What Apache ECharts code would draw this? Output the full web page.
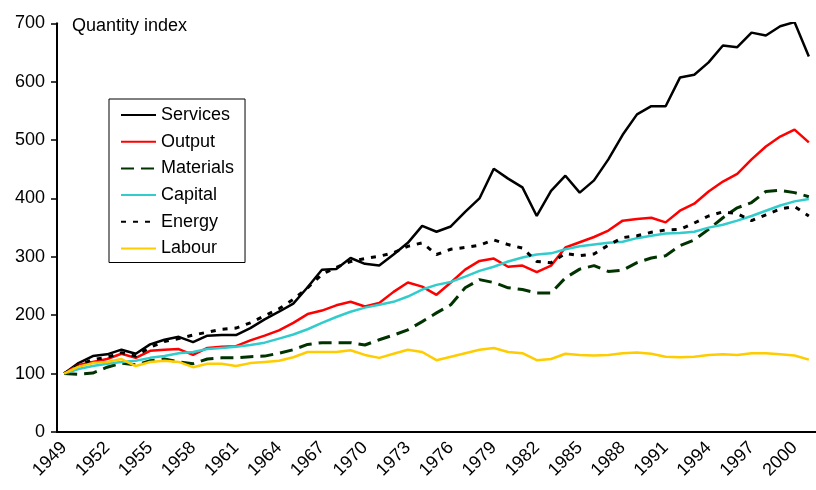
<!DOCTYPE html>
<html>
<head>
<meta charset="utf-8">
<script src="https://cdn.jsdelivr.net/npm/echarts@6/dist/echarts.min.js"></script>
<style>
  html, body { margin: 0; padding: 0; background: #fff; }
  #main { width: 816px; height: 490px; }
</style>
</head>
<body>
<div id="main"></div>
<script>
// years along the bottom (one category per year)
var years = ['1949','1950','1951','1952','1953','1954','1955','1956','1957','1958',
    '1959','1960','1961','1962','1963','1964','1965','1966','1967','1968',
    '1969','1970','1971','1972','1973','1974','1975','1976','1977','1978',
    '1979','1980','1981','1982','1983','1984','1985','1986','1987','1988',
    '1989','1990','1991','1992','1993','1994','1995','1996','1997','1998',
    '1999','2000','2001'];

var services = [100,118,130,133,141,134,150,158,163,154,
    165,166,166,178,193,206,220,248,278,279,
    298,288,285,304,324,353,343,352,377,400,
    451,434,419,370,413,439,410,431,467,509,
    544,558,558,607,612,633,662,659,684,679,
    695,702,643];

var output = [100,115,120,125,134,127,139,141,142,132,
    144,146,147,157,165,174,187,202,208,217,
    223,215,221,240,256,249,235,256,278,293,
    297,283,285,274,285,316,325,334,345,362,
    365,367,359,379,391,412,429,442,467,489,
    506,518,496];

var materials = [100,99,101,111,118,115,122,125,120,117,
    125,127,127,129,130,135,141,150,153,153,
    153,149,158,166,175,189,204,218,247,261,
    256,247,244,238,238,264,279,285,275,277,
    290,298,302,319,329,347,367,384,393,412,
    414,410,403];

var capital = [100,108,113,117,120,122,127,130,135,137,
    142,144,146,149,153,160,167,176,187,197,
    206,213,218,223,232,244,252,257,266,276,
    283,292,299,304,306,313,318,321,324,326,
    332,336,340,341,343,350,355,362,370,379,
    388,395,399];

var energy = [100,114,124,128,136,130,145,155,160,166,
    171,176,178,187,199,211,227,247,270,282,
    292,297,301,307,318,324,304,313,316,320,
    329,321,315,292,290,306,302,305,320,333,
    336,342,346,347,358,370,377,374,362,372,
    382,386,370];

var labour = [100,112,118,120,125,113,120,122,120,111,
    117,117,113,118,120,122,128,137,137,137,
    140,132,127,134,141,137,123,129,135,141,
    144,137,135,123,125,134,132,131,132,135,
    136,134,129,128,129,132,133,132,135,135,
    133,131,124];

var yTicks = [0, 100, 200, 300, 400, 500, 600, 700];

var font = '"Liberation Sans", Arial, sans-serif';

function makeLine(name, data, color, type, width) {
    return {
        name: name,
        type: 'line',
        data: data,
        symbol: 'none',
        animation: false,
        lineStyle: { color: color, width: width, type: type },
        itemStyle: { color: color }
    };
}

var myChart = echarts.init(document.getElementById('main'));
var option = {
    backgroundColor: '#fff',
    textStyle: { fontFamily: font },
    title: {
        text: 'Quantity index',
        left: 67,
        top: 12,
        textStyle: { fontFamily: font, fontSize: 18, fontWeight: 'normal', color: '#000' }
    },
    legend: {
        orient: 'vertical',
        left: 109,
        top: 99,
        padding: [6, 11, 4, 11],
        itemWidth: 35,
        itemHeight: 12,
        itemGap: 6.7,
        itemStyle: { opacity: 0 },
        borderColor: '#000',
        borderWidth: 1,
        backgroundColor: '#fff',
        textStyle: { fontFamily: font, fontSize: 18, color: '#000', lineHeight: 20 },
        data: ['Services', 'Output', 'Materials', 'Capital', 'Energy', 'Labour']
    },
    grid: {
        left: 57,
        top: 23.3,
        width: 766,
        bottom: 58,
        containLabel: false
    },
    xAxis: {
        type: 'category',
        data: years,
        boundaryGap: true,
        axisLine: { lineStyle: { color: '#000', width: 2 } },
        axisTick: { interval: 0, length: 5, lineStyle: { color: '#000', width: 1.5 } },
        axisLabel: {
            interval: 2,
            rotate: 45,
            margin: 13,
            color: '#000',
            fontFamily: font,
            fontSize: 18
        },
        splitLine: { show: false }
    },
    yAxis: {
        type: 'value',
        min: yTicks[0],
        max: yTicks[yTicks.length - 1],
        interval: 100,
        axisLine: { show: true, lineStyle: { color: '#000', width: 2 } },
        axisTick: { show: true, length: 6, lineStyle: { color: '#000', width: 1.5 } },
        axisLabel: { margin: 12, color: '#000', fontFamily: font, fontSize: 18 },
        splitLine: { show: false }
    },
    series: [
        makeLine('Services', services, '#000000', 'solid', 2.5),
        makeLine('Output', output, '#ff0000', 'solid', 2.5),
        makeLine('Materials', materials, '#003300', [13, 7], 3),
        makeLine('Capital', capital, '#33cccc', 'solid', 2.5),
        makeLine('Energy', energy, '#000000', [5, 7], 3),
        makeLine('Labour', labour, '#ffcc00', 'solid', 2.5)
    ]
};
myChart.setOption(option);
</script>
</body>
</html>
